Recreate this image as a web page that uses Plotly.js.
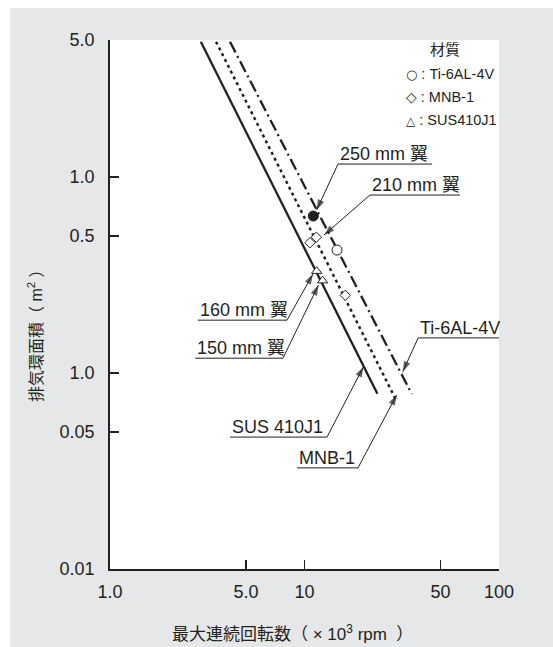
<!DOCTYPE html>
<html>
<head>
<meta charset="utf-8">
<script src="https://cdn.plot.ly/plotly-3.0.1.min.js"></script>
<style>
  html, body { margin: 0; padding: 0; background: #ffffff; }
  #chart { position: absolute; left: 10px; top: 8px; width: 543px; height: 639px; }
</style>
</head>
<body>
<div id="chart"></div>
<script>
// ---- data ----
// design lines  (x: max continuous speed ×10^3 rpm, y: exhaust annulus area m^2)
const susLineX = [2.93, 23.7];
const susLineY = [4.9, 0.0784];
const mnbLineX = [3.51, 29.5];
const mnbLineY = [4.9, 0.0731];
const tiLineX  = [4.14, 35.6];
const tiLineY  = [4.9, 0.0781];

// measured blades
const tiPtsX  = [14.7];
const tiPtsY  = [0.424];
const mnbPtsX = [10.67, 11.5, 16.2];
const mnbPtsY = [0.462, 0.493, 0.249];
const susPtsX = [11.55, 12.4];
const susPtsY = [0.331, 0.296];
const bladePtsX = [11.1];     // 250 mm blade (filled)
const bladePtsY = [0.632];

// axes ticks
const xTickVals = [1, 5, 10, 50, 100];
const xTickText = ['1.0', '5.0', '10', '50', '100'];
const yTickVals = [5, 1, 0.5, 0.1, 0.05, 0.01];
const yTickText = ['5.0', '1.0', '0.5', '1.0', '0.05', '0.01'];

// callout labels: text, underline x-range, underline y, leader start side, arrow tip
const calloutText  = ['250 mm 翼', '210 mm 翼', '160 mm 翼', '150 mm 翼', 'Ti-6AL-4V', 'SUS 410J1', 'MNB-1'];
const calloutX0    = [14.87, 21.7, 2.83, 2.74, 38.4, 4.14, 9.15];
const calloutX1    = [45.3, 63.0, 8.13, 7.75, 100, 13.05, 18.84];
const calloutY     = [1.164, 0.809, 0.186, 0.119, 0.151, 0.0471, 0.0328];
const calloutSide  = ['left', 'left', 'right', 'right', 'left', 'right', 'right'];
const calloutTipX  = [11.55, 12.6, 11.06, 11.8, 32.0, 20.1, 29.8];
const calloutTipY  = [0.679, 0.506, 0.320, 0.281, 0.1016, 0.1077, 0.0773];

const legendTitle = '材質';
const legendSymbols = ['○', '◇', '△'];
const legendSymbolSize = [13, 14, 12];
const legendNames = ['Ti-6AL-4V', 'MNB-1', 'SUS410J1'];

const xTitle = '最大連続回転数（&nbsp;×&nbsp;10<sup>3</sup>&nbsp;rpm&nbsp;&nbsp;）';
const yTitle = '排気環面積（ m<sup>2</sup> ）';

// ---- build ----
const FONT = 'Liberation Sans, Arial, "Noto Sans CJK JP", sans-serif';
const INK = '#231f20';
const lg = v => Math.log10(v);

const traces = [
  {x: susLineX, y: susLineY, mode: 'lines', line: {color: INK, width: 2.3}},
  {x: mnbLineX, y: mnbLineY, mode: 'lines', line: {color: INK, width: 2.5, dash: '3px,3.5px'}},
  {x: tiLineX,  y: tiLineY,  mode: 'lines', line: {color: INK, width: 2.3, dash: '12px,4px,2px,4px'}},
  {x: tiPtsX, y: tiPtsY, mode: 'markers',
   marker: {symbol: 'circle', size: 10, color: '#ffffff', line: {color: INK, width: 1}}},
  {x: mnbPtsX, y: mnbPtsY, mode: 'markers',
   marker: {symbol: 'diamond', size: 8, color: '#ffffff', line: {color: INK, width: 1}}},
  {x: susPtsX, y: susPtsY, mode: 'markers',
   marker: {symbol: 'triangle-up', size: 9, color: '#ffffff', line: {color: INK, width: 1}}},
  {x: bladePtsX, y: bladePtsY, mode: 'markers',
   marker: {symbol: 'circle', size: 10, color: INK, line: {color: INK, width: 1}}}
];

const annotations = [];
calloutText.forEach((t, i) => {
  const left = calloutSide[i] === 'left';
  const far = left ? calloutX1[i] : calloutX0[i];
  const near = left ? calloutX0[i] : calloutX1[i];
  traces.push({
    x: [far, near, calloutTipX[i]], y: [calloutY[i], calloutY[i], calloutTipY[i]],
    mode: 'lines+markers', hoverinfo: 'skip',
    line: {color: INK, width: 1},
    marker: {symbol: 'arrow', angleref: 'previous', size: [0, 0, 11], color: INK, line: {width: 0}}
  });
  annotations.push({
    x: lg(calloutX0[i]), y: lg(calloutY[i]), xref: 'x', yref: 'y',
    xanchor: 'left', yanchor: 'bottom', showarrow: false, text: t,
    xshift: 0, yshift: -2, font: {family: FONT, size: 18, color: INK}
  });
});

annotations.push({x: 0.86, y: 0.982, xref: 'paper', yref: 'paper', xanchor: 'center', yanchor: 'middle',
  showarrow: false, text: legendTitle, font: {family: FONT, size: 15, color: INK}});
legendNames.forEach((t, i) => {
  annotations.push({x: 0.755, y: 0.935 - i * 0.043, xref: 'paper', yref: 'paper',
    xanchor: 'left', yanchor: 'middle', showarrow: false,
    text: '<span style="font-family:DejaVu Sans;font-size:' + legendSymbolSize[i] + 'px">' +
          legendSymbols[i] + '</span>&nbsp;:&nbsp;' + t,
    font: {family: FONT, size: 14.5, color: INK}});
});

// axis titles as positioned text
annotations.push({x: -0.193, y: 0.448, xref: 'paper', yref: 'paper', xanchor: 'center', yanchor: 'middle',
  textangle: -90, showarrow: false, text: yTitle,
  font: {family: FONT, size: 16, color: INK}});
annotations.push({x: 0.47, y: -0.121, xref: 'paper', yref: 'paper', xanchor: 'center', yanchor: 'middle',
  showarrow: false, text: xTitle,
  font: {family: FONT, size: 17, color: INK}});

const layout = {
  width: 543, height: 639,
  margin: {l: 100, r: 54, t: 32, b: 78},
  paper_bgcolor: '#e6e7e8',
  plot_bgcolor: '#ffffff',
  showlegend: false,
  font: {family: FONT, color: INK},
  xaxis: {
    type: 'log', range: [0, 2], tickvals: xTickVals, ticktext: xTickText,
    ticks: 'inside', ticklen: 9, tickwidth: 1.3, tickcolor: INK,
    showline: true, linecolor: INK, linewidth: 1.8, mirror: false,
    showgrid: false, zeroline: false, ticklabelstandoff: 6,
    tickfont: {family: FONT, size: 18, color: INK}
  },
  yaxis: {
    type: 'log', range: [-2, Math.log10(5)], tickvals: yTickVals, ticktext: yTickText,
    ticks: 'inside', ticklen: 9, tickwidth: 1.3, tickcolor: INK,
    showline: true, linecolor: INK, linewidth: 1.8, mirror: false,
    showgrid: false, zeroline: false, ticklabelstandoff: 10,
    tickfont: {family: FONT, size: 18, color: INK}
  },
  annotations: annotations
};

Plotly.newPlot('chart', traces, layout, {staticPlot: true, displayModeBar: false});
</script>
</body>
</html>
